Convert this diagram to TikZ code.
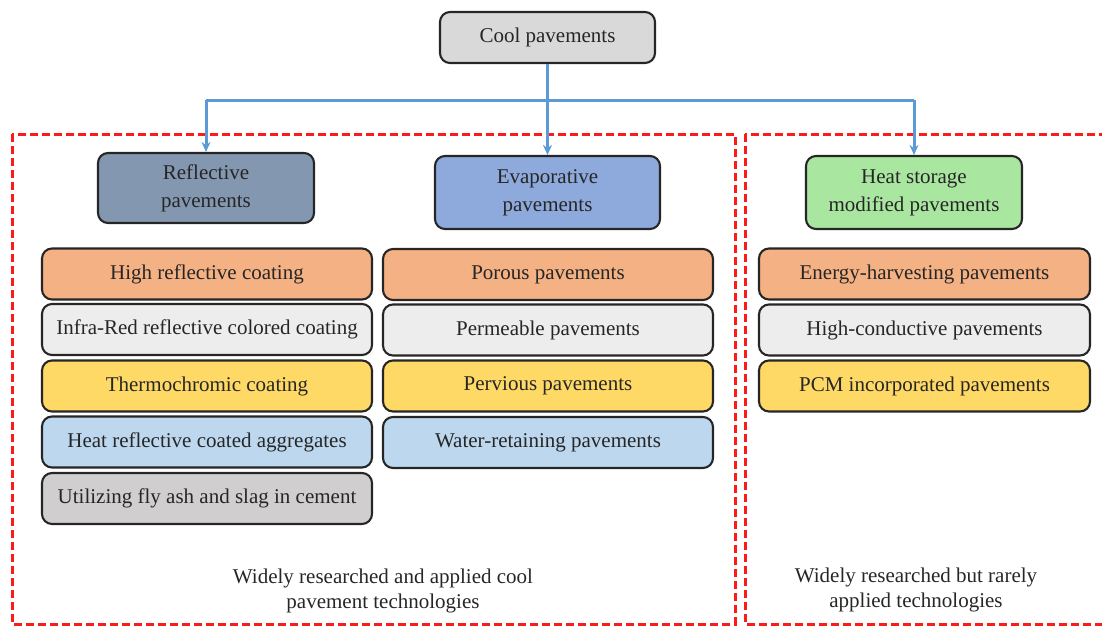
\documentclass[tikz,border=0pt]{standalone}
\usepackage{fontspec}
\setmainfont{Liberation Serif}
\usetikzlibrary{arrows.meta}
\definecolor{txt}{HTML}{262626}
\definecolor{cgray}{HTML}{D9D9D9}
\definecolor{crefl}{HTML}{8497B0}
\definecolor{cevap}{HTML}{8EA9DB}
\definecolor{cheat}{HTML}{A9E6A0}
\definecolor{corange}{HTML}{F4B183}
\definecolor{clight}{HTML}{EDEDED}
\definecolor{cyellow}{HTML}{FFD966}
\definecolor{cblue}{HTML}{BDD7EE}
\definecolor{cdgray}{HTML}{D0CECE}
\definecolor{conncol}{HTML}{5B9BD5}
\definecolor{dashred}{HTML}{FF1A1A}
\tikzset{
  box/.style={draw=black!85, line width=2.1pt, rounded corners=10pt, text=txt,
    font=\fontsize{21}{25}\selectfont, align=center, inner sep=0pt},
  catbox/.style={box, font=\fontsize{21}{28}\selectfont},
  item/.style={box, minimum width=330pt, minimum height=51pt},
  conn/.style={draw=conncol, line width=3pt},
  arr/.style={conn, -{Stealth[length=10pt,width=9pt]}},
  reddash/.style={draw=dashred, line width=3pt, dash pattern=on 8pt off 4pt},
  note/.style={text=txt, font=\fontsize{21}{25}\selectfont, align=center}
}
\begin{document}
\begin{tikzpicture}[x=1pt,y=-1pt]
\useasboundingbox (0,0) rectangle (1102,626);
% dashed regions
\draw[reddash] (12,134) rectangle (735,624);
\draw[reddash] (745,134) rectangle (1108,624);
% top node
\node[box, fill=cgray, minimum width=215pt, minimum height=51pt] (cool) at (547.5,37.5) {Cool pavements};
% category nodes
\node[catbox, fill=crefl, minimum width=216pt, minimum height=70pt] (refl) at (206,188) {Reflective\\pavements};
\node[catbox, fill=cevap, minimum width=225pt, minimum height=73pt] (evap) at (547.5,192.5) {Evaporative\\pavements};
\node[catbox, fill=cheat, minimum width=216pt, minimum height=73pt] (heat) at (914,192.5) {Heat storage\\modified pavements};
% connectors
\coordinate (j) at (547.5,100);
\draw[conn] (j -| refl.north) -- (j -| heat.north);
\draw[conn] (cool.south) -- (j);
\draw[arr] (j) -- (evap.north);
\draw[arr] (j -| refl.north) -- (refl.north);
\draw[arr] (j -| heat.north) -- (heat.north);
% left column
\node[item, fill=corange] (l1) at (207,274) {High reflective coating};
\node[item, fill=clight] (l2) at (207,329.5) {Infra-Red reflective colored coating};
\node[item, fill=cyellow] (l3) at (207,386) {Thermochromic coating};
\node[item, fill=cblue] (l4) at (207,442) {Heat reflective coated aggregates};
\node[item, fill=cdgray] (l5) at (207,498.5) {Utilizing fly ash and slag in cement};
% middle column
\node[item, fill=corange] (m1) at (548,274.5) {Porous pavements};
\node[item, fill=clight] (m2) at (548,330) {Permeable pavements};
\node[item, fill=cyellow] (m3) at (548,386) {Pervious pavements};
\node[item, fill=cblue] (m4) at (548,442.5) {Water-retaining pavements};
% right column
\node[item, fill=corange, minimum width=331pt] (r1) at (924.5,274) {Energy-harvesting pavements};
\node[item, fill=clight, minimum width=331pt] (r2) at (924.5,330) {High-conductive pavements};
\node[item, fill=cyellow, minimum width=331pt] (r3) at (924.5,386) {PCM incorporated pavements};
% notes
\node[note] (nl) at (383,591) {Widely researched and applied cool\\pavement technologies};
\node[note] (nr) at (916,590) {Widely researched but rarely\\applied technologies};
\end{tikzpicture}
\end{document}
